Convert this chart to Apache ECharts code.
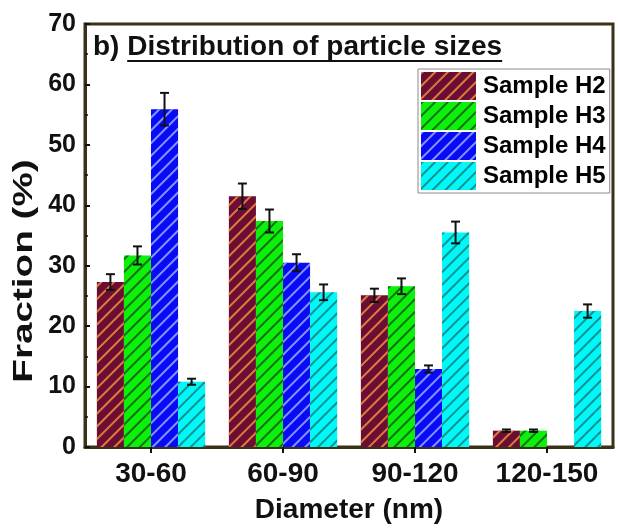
<!DOCTYPE html>
<html>
<head>
<meta charset="utf-8">
<script src="https://cdn.jsdelivr.net/npm/echarts@6/dist/echarts.min.js"></script>
<style>
  html, body { margin: 0; padding: 0; background: #ffffff; }
  #chart { width: 618px; height: 529px; }
</style>
</head>
<body>
<div id="chart"></div>
<script>
// Particle size classes (nm)
const categories = ['30-60', '60-90', '90-120', '120-150'];
const sampleNames = ['Sample H2', 'Sample H3', 'Sample H4', 'Sample H5'];

// Fraction (%) per size class and its error
const h2Values = [27.3, 41.5, 25.1, 2.7];
const h2Errors = [1.3, 2.1, 1.1, 0.2];
const h3Values = [31.7, 37.4, 26.6, 2.7];
const h3Errors = [1.5, 1.9, 1.3, 0.2];
const h4Values = [55.9, 30.5, 12.9, 0];
const h4Errors = [2.7, 1.4, 0.6, 0];
const h5Values = [10.8, 25.6, 35.5, 22.5];
const h5Errors = [0.5, 1.3, 1.8, 1.1];

const yTicks = [0, 10, 20, 30, 40, 50, 60, 70];

const allValues = [h2Values, h3Values, h4Values, h5Values];
const allErrors = [h2Errors, h3Errors, h4Errors, h5Errors];
const fillColors = ['#6b0e34', '#0cf00c', '#0a0af5', '#00f8f8'];
const hatchColors = ['#e07a3c', '#127012', '#7f95ff', '#10908f'];

const FONT = '"Liberation Sans", Arial, sans-serif';
const AXIS_COLOR = '#3b3018';
const CAT_GAP = 0.18;

const chart = echarts.init(document.getElementById('chart'), null, { renderer: 'canvas' });

// diagonal hatch drawn over each bar fill
function hatch(color) {
  return {
    symbol: 'rect',
    symbolSize: 1,
    dashArrayX: [1, 0],
    dashArrayY: [1.3, 7],
    rotation: -Math.PI / 4,
    color: color
  };
}

const barSeries = sampleNames.map((name, i) => ({
  name: name,
  type: 'bar',
  barGap: '0%',
  barCategoryGap: (CAT_GAP * 100) + '%',
  data: allValues[i],
  itemStyle: { color: fillColors[i], decal: hatch(hatchColors[i]) },
  emphasis: { disabled: true },
  z: 2
}));

// I-shaped error bars centred on each bar of the group
const errorSeries = sampleNames.map((name, i) => ({
  type: 'custom',
  silent: true,
  z: 5,
  data: allValues[i].map((v, c) => [c, v, allErrors[i][c]]),
  encode: { x: 0, y: 1 },
  renderItem: function (params, api) {
    const cat = api.value(0);
    const v = api.value(1);
    const e = api.value(2);
    if (!e) return null;
    const band = api.size([1, 0])[0];
    const bw = band * (1 - CAT_GAP) / 4;
    const cx = api.coord([cat, v])[0] + (i - 1.5) * bw;
    const yTop = api.coord([cat, v + e])[1];
    const yBot = api.coord([cat, v - e])[1];
    const cap = 4.5;
    const st = { stroke: '#111111', lineWidth: 2 };
    return {
      type: 'group',
      children: [
        { type: 'line', shape: { x1: cx, y1: yTop, x2: cx, y2: yBot }, style: st },
        { type: 'line', shape: { x1: cx - cap, y1: yTop, x2: cx + cap, y2: yTop }, style: st },
        { type: 'line', shape: { x1: cx - cap, y1: yBot, x2: cx + cap, y2: yBot }, style: st }
      ]
    };
  }
}));

// panel title with underlined main part
const titleFont = 'bold 28px "Liberation Sans", Arial, sans-serif';
const measureCtx = document.createElement('canvas').getContext('2d');
measureCtx.font = titleFont;
const prefix = 'b) ';
const titleMain = 'Distribution of particle sizes';
const prefixW = measureCtx.measureText(prefix).width;
const mainW = measureCtx.measureText(titleMain).width;
const titleX = 93;
const titleTop = 33;
const underlineY = 61;

const option = {
  animation: false,
  backgroundColor: '#ffffff',
  grid: {
    left: 85, right: 5, top: 24, bottom: 77,
    show: true, borderColor: AXIS_COLOR, borderWidth: 3, backgroundColor: 'transparent'
  },
  legend: {
    orient: 'vertical',
    left: 418, top: 69,
    data: sampleNames,
    icon: 'rect',
    itemWidth: 55, itemHeight: 28, itemGap: 2,
    padding: [3, 4, 3, 3],
    borderColor: '#8a8a8a', borderWidth: 1,
    backgroundColor: '#ffffff',
    selectedMode: false,
    textStyle: { fontFamily: FONT, fontWeight: 'bold', fontSize: 24, color: '#000000', padding: [0, 0, 0, 2] }
  },
  xAxis: {
    type: 'category',
    data: categories,
    axisLine: { lineStyle: { color: AXIS_COLOR, width: 3 } },
    axisTick: { show: true, alignWithLabel: true, inside: false, length: 6, lineStyle: { color: '#111111', width: 2 } },
    axisLabel: { interval: 0, fontFamily: FONT, fontWeight: 'bold', fontSize: 28, color: '#111111', margin: 13 },
    name: 'Diameter (nm)',
    nameLocation: 'middle',
    nameGap: 49,
    nameTextStyle: { fontFamily: FONT, fontWeight: 'bold', fontSize: 28, color: '#111111' }
  },
  yAxis: {
    type: 'value',
    min: yTicks[0], max: yTicks[yTicks.length - 1], interval: 10,
    axisLine: { show: true, lineStyle: { color: AXIS_COLOR, width: 3 } },
    axisTick: { show: true, inside: true, length: 5, lineStyle: { color: '#111111', width: 2 } },
    minorTick: { show: true, splitNumber: 2, length: 3, lineStyle: { color: '#111111', width: 1.5 } },
    splitLine: { show: false },
    axisLabel: { fontFamily: FONT, fontWeight: 'bold', fontSize: 25, color: '#111111', margin: 9 }
  },
  graphic: [
    {
      type: 'text', left: titleX, top: titleTop, z: 10,
      style: { text: prefix + titleMain, font: titleFont, fill: '#111111' }
    },
    {
      type: 'line', z: 10,
      shape: { x1: titleX + prefixW, y1: underlineY, x2: titleX + prefixW + mainW, y2: underlineY },
      style: { stroke: '#111111', lineWidth: 2 }
    },
    {
      // y-axis title, stretched along its length
      type: 'text', x: 24, y: 271, rotation: Math.PI / 2, scaleX: 1.38, z: 10,
      style: {
        text: 'Fraction (%)', font: 'bold 28px "Liberation Sans", Arial, sans-serif',
        fill: '#111111', align: 'center', verticalAlign: 'middle'
      }
    }
  ],
  series: barSeries.concat(errorSeries)
};

chart.setOption(option);
</script>
</body>
</html>
